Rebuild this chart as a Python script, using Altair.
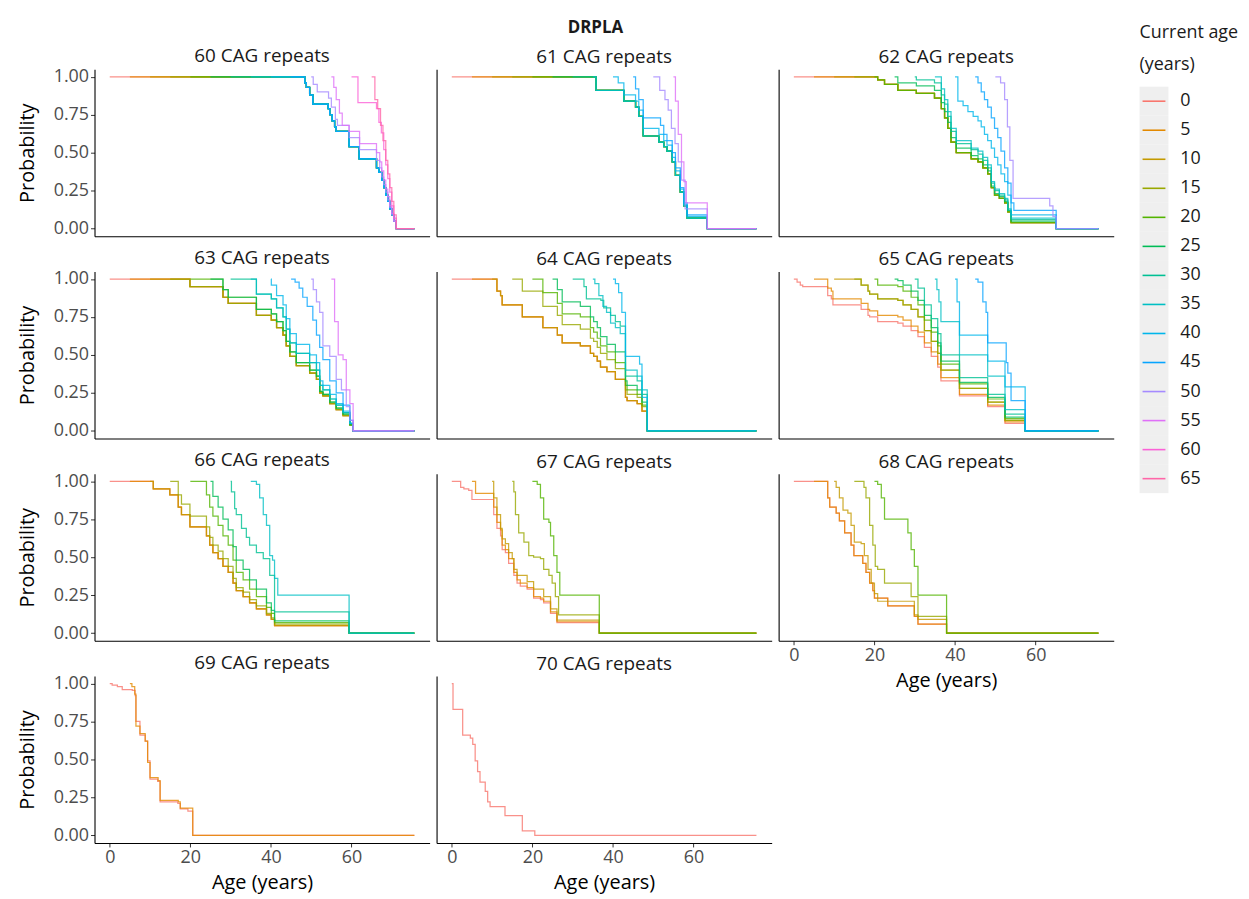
import altair as alt
import pandas as pd

# ---------------- data ----------------
END_AGE = 75.6
CURRENT_AGES = [0, 5, 10, 15, 20, 25, 30, 35, 40, 45, 50, 55, 60, 65]
AGE_COLORS = ["#F8766D", "#E38900", "#C49A00", "#99A800", "#53B400", "#00BC56", "#00C094",
              "#00BFC4", "#00B6EB", "#06A4FF", "#A58AFF", "#DF70F8", "#FB61D7", "#FF66A8"]
X_TICKS = [0, 20, 40, 60]
Y_TICKS = [0, 0.25, 0.5, 0.75, 1.0]

# each curve: (step ages, probability after each step); curve starts at its current age with p = 1
P60_CURVES = {
    0: ([48.4, 48.8, 49.6, 50.4, 54.2, 54.6, 55.2, 55.8, 56.2, 59.4, 61.9, 66.2, 66.8, 67.5, 68.0, 68.5, 69.0, 69.5, 70.0, 70.5, 71.1],
        [0.96, 0.93, 0.88, 0.82, 0.79, 0.75, 0.71, 0.67, 0.64, 0.54, 0.46, 0.40, 0.37, 0.32, 0.27, 0.22, 0.18, 0.13, 0.09, 0.05, 0.0]),
    50: ([50.5, 51.5, 54.3, 55.0, 56.0, 56.5, 59.4, 62.0, 66.2, 67.0, 67.5, 68.0, 68.5, 69.0, 69.5, 70.0, 70.5, 71.1],
         [0.95, 0.90, 0.86, 0.80, 0.72, 0.68, 0.60, 0.52, 0.45, 0.40, 0.34, 0.29, 0.24, 0.19, 0.14, 0.09, 0.05, 0.0]),
    55: ([55.6, 56.2, 57.0, 57.7, 59.4, 62.0, 66.2, 67.0, 67.5, 68.0, 68.5, 69.0, 69.5, 70.0, 70.5, 71.1],
         [0.93, 0.85, 0.76, 0.68, 0.64, 0.56, 0.50, 0.44, 0.38, 0.32, 0.26, 0.21, 0.15, 0.10, 0.05, 0.0]),
    60: ([61.6, 66.2, 66.8, 67.4, 68.0, 68.5, 69.0, 69.5, 70.0, 70.5, 71.1],
         [0.83, 0.79, 0.70, 0.63, 0.52, 0.42, 0.33, 0.24, 0.15, 0.07, 0.0]),
    65: ([65.8, 66.5, 67.2, 67.8, 68.5, 69.0, 69.5, 70.0, 70.5, 71.1],
         [0.85, 0.79, 0.68, 0.58, 0.45, 0.36, 0.27, 0.18, 0.09, 0.0]),
}
P60_SHARED = {5: 0, 10: 0, 15: 0, 20: 0, 25: 0, 30: 0, 35: 0, 40: 0, 45: 0}

P61_CURVES = {
    0: ([35.8, 42.7, 45.6, 46.4, 47.5, 51.4, 52.6, 53.4, 54.7, 55.5, 56.7, 57.6, 58.4, 63.4],
        [0.91, 0.84, 0.80, 0.74, 0.61, 0.57, 0.54, 0.51, 0.44, 0.35, 0.24, 0.15, 0.07, 0.0]),
    40: ([41.3, 42.7, 45.6, 46.4, 47.5, 51.4, 52.6, 53.4, 54.7, 55.5, 56.7, 57.6, 58.4, 63.4],
         [0.96, 0.88, 0.84, 0.78, 0.66, 0.62, 0.58, 0.55, 0.47, 0.38, 0.26, 0.16, 0.08, 0.0]),
    45: ([45.6, 46.4, 47.5, 51.8, 52.6, 53.4, 54.7, 55.5, 56.7, 57.6, 58.4, 63.4],
         [0.92, 0.85, 0.73, 0.68, 0.62, 0.58, 0.50, 0.40, 0.27, 0.17, 0.09, 0.0]),
    50: ([51.6, 52.9, 53.7, 54.5, 55.4, 56.2, 57.0, 57.9, 63.4],
         [0.91, 0.85, 0.78, 0.66, 0.56, 0.44, 0.32, 0.13, 0.0]),
    55: ([55.5, 56.2, 57.0, 57.6, 58.2, 63.4],
         [0.84, 0.62, 0.44, 0.31, 0.17, 0.0]),
}
P61_SHARED = {5: 0, 10: 0, 15: 0, 20: 0, 25: 0, 30: 0, 35: 0}

P62_CURVES = {
    0: ([20.8, 22.5, 25.8, 30.4, 34.9, 36.6, 37.4, 38.2, 39.0, 40.3, 44.0, 45.7, 46.9, 48.1, 49.0, 49.8, 51.0, 52.3, 53.1, 53.9, 65.1],
        [0.98, 0.95, 0.91, 0.89, 0.86, 0.79, 0.73, 0.66, 0.57, 0.50, 0.46, 0.44, 0.40, 0.36, 0.27, 0.22, 0.20, 0.17, 0.11, 0.04, 0.0]),
    25: ([25.8, 30.4, 34.9, 36.6, 37.4, 38.2, 39.0, 40.3, 44.0, 45.7, 46.9, 48.1, 49.0, 49.8, 51.0, 52.3, 53.1, 53.9, 65.1],
         [0.96, 0.94, 0.91, 0.83, 0.77, 0.70, 0.60, 0.53, 0.48, 0.46, 0.42, 0.38, 0.28, 0.23, 0.21, 0.18, 0.12, 0.05, 0.0]),
    30: ([30.4, 34.9, 36.6, 37.4, 38.2, 39.0, 40.3, 44.0, 45.7, 46.9, 48.1, 49.0, 49.8, 51.0, 52.3, 53.1, 53.9, 65.1],
         [0.98, 0.96, 0.88, 0.82, 0.74, 0.64, 0.56, 0.52, 0.49, 0.45, 0.40, 0.30, 0.25, 0.22, 0.19, 0.12, 0.06, 0.0]),
    35: ([36.6, 37.4, 38.2, 39.0, 40.3, 44.0, 45.7, 46.9, 48.1, 49.0, 49.8, 51.0, 52.3, 53.1, 53.9, 65.1],
         [0.92, 0.85, 0.77, 0.66, 0.58, 0.53, 0.51, 0.47, 0.42, 0.31, 0.26, 0.23, 0.20, 0.13, 0.07, 0.0]),
    40: ([40.7, 42.0, 43.2, 44.5, 45.7, 46.5, 47.3, 48.1, 49.0, 49.8, 50.6, 51.4, 52.3, 53.1, 53.9, 65.1],
         [0.84, 0.81, 0.77, 0.74, 0.71, 0.67, 0.62, 0.58, 0.53, 0.47, 0.42, 0.36, 0.31, 0.22, 0.09, 0.0]),
    45: ([45.7, 46.5, 47.3, 48.1, 49.0, 49.8, 50.6, 51.4, 52.3, 53.1, 53.9, 54.6, 65.1],
         [0.96, 0.90, 0.85, 0.80, 0.73, 0.66, 0.60, 0.51, 0.40, 0.30, 0.17, 0.12, 0.0]),
    50: ([51.3, 52.3, 53.0, 53.6, 54.4, 63.5, 64.3, 65.1],
         [0.96, 0.85, 0.67, 0.45, 0.20, 0.15, 0.08, 0.0]),
}
P62_SHARED = {5: 0, 10: 0, 15: 0, 20: 0}

P63_CURVES = {
    0: ([19.9, 28.1, 29.4, 36.4, 40.1, 41.4, 43.0, 43.8, 44.7, 46.3, 49.6, 51.3, 52.1, 52.9, 54.6, 56.2, 57.9, 59.6, 60.4],
        [0.95, 0.88, 0.84, 0.76, 0.73, 0.68, 0.63, 0.56, 0.49, 0.43, 0.38, 0.34, 0.25, 0.23, 0.18, 0.14, 0.10, 0.04, 0.0]),
    20: ([28.1, 29.4, 36.4, 40.1, 41.4, 43.0, 43.8, 44.7, 46.3, 49.6, 51.3, 52.1, 52.9, 54.6, 56.2, 57.9, 59.6, 60.4],
         [0.93, 0.88, 0.80, 0.77, 0.72, 0.66, 0.59, 0.52, 0.45, 0.40, 0.36, 0.26, 0.24, 0.19, 0.15, 0.11, 0.04, 0.0]),
    30: ([36.4, 40.1, 41.4, 43.0, 43.8, 44.7, 46.3, 49.6, 51.3, 52.1, 52.9, 54.6, 56.2, 57.9, 59.6, 60.4],
         [0.90, 0.87, 0.81, 0.75, 0.67, 0.58, 0.51, 0.45, 0.40, 0.30, 0.27, 0.21, 0.17, 0.12, 0.05, 0.0]),
    40: ([40.1, 41.4, 43.0, 43.8, 44.7, 46.3, 49.6, 51.3, 52.1, 52.9, 54.6, 56.2, 57.9, 59.6, 60.4],
         [0.96, 0.89, 0.83, 0.74, 0.64, 0.57, 0.50, 0.45, 0.33, 0.30, 0.24, 0.18, 0.13, 0.05, 0.0]),
    45: ([46.0, 47.0, 47.9, 49.0, 50.4, 51.3, 52.1, 52.9, 54.6, 56.2, 57.9, 59.6, 60.4],
         [0.98, 0.94, 0.88, 0.82, 0.73, 0.63, 0.55, 0.47, 0.33, 0.25, 0.17, 0.07, 0.0]),
    50: ([50.5, 51.3, 52.1, 52.9, 54.6, 56.2, 57.5, 58.7, 59.6, 60.4],
         [0.93, 0.85, 0.78, 0.56, 0.49, 0.34, 0.27, 0.16, 0.07, 0.0]),
    55: ([55.8, 56.7, 57.9, 58.7, 59.6, 60.4],
         [0.72, 0.50, 0.47, 0.27, 0.18, 0.0]),
}
P63_SHARED = {5: 0, 10: 0, 15: 0, 25: 20, 35: 30}

P64_CURVES = {
    0: ([11.2, 12.1, 12.5, 17.5, 22.6, 26.2, 27.4, 31.9, 34.4, 35.2, 36.1, 36.9, 38.5, 40.6, 43.1, 43.5, 46.0, 47.2, 48.5],
        [0.92, 0.89, 0.83, 0.75, 0.68, 0.63, 0.58, 0.56, 0.51, 0.49, 0.46, 0.42, 0.39, 0.34, 0.22, 0.20, 0.18, 0.13, 0.0]),
    15: ([17.5, 22.6, 26.2, 27.4, 31.9, 34.4, 35.2, 36.1, 36.9, 38.5, 40.6, 43.1, 43.5, 46.0, 47.2, 48.5],
         [0.92, 0.82, 0.76, 0.70, 0.67, 0.61, 0.59, 0.55, 0.51, 0.47, 0.41, 0.27, 0.24, 0.22, 0.16, 0.0]),
    20: ([22.6, 26.2, 27.4, 31.9, 34.4, 35.2, 36.1, 36.9, 38.5, 40.6, 43.1, 43.5, 46.0, 47.2, 48.5],
         [0.91, 0.84, 0.77, 0.75, 0.68, 0.65, 0.61, 0.56, 0.52, 0.45, 0.30, 0.27, 0.24, 0.17, 0.0]),
    25: ([26.2, 27.4, 31.9, 34.4, 35.2, 36.1, 36.9, 38.5, 40.6, 43.1, 43.5, 46.0, 47.2, 48.5],
         [0.93, 0.85, 0.82, 0.75, 0.72, 0.68, 0.62, 0.57, 0.52, 0.33, 0.30, 0.27, 0.19, 0.0]),
    30: ([32.8, 33.4, 37.0, 37.7, 39.4, 40.6, 41.8, 43.1, 46.0, 47.2, 48.5],
         [0.95, 0.87, 0.86, 0.81, 0.76, 0.72, 0.69, 0.36, 0.33, 0.24, 0.0]),
    35: ([35.5, 36.5, 37.5, 38.4, 39.4, 40.6, 41.8, 43.1, 46.0, 47.2, 48.5],
         [0.97, 0.89, 0.82, 0.78, 0.71, 0.68, 0.64, 0.40, 0.36, 0.27, 0.0]),
    40: ([40.6, 41.4, 42.2, 43.1, 46.6, 47.2, 48.5],
         [0.97, 0.91, 0.78, 0.49, 0.44, 0.22, 0.0]),
}
P64_SHARED = {5: 0, 10: 0}

P65_CURVES = {
    0: ([0.8, 1.6, 2.2, 8.4, 9.3, 9.7, 16.7, 18.4, 18.8, 20.8, 25.8, 27.1, 29.1, 30.8, 32.4, 34.1, 35.7, 36.5, 41.1, 48.1, 52.4, 57.4],
        [0.98, 0.96, 0.95, 0.89, 0.87, 0.83, 0.80, 0.76, 0.75, 0.72, 0.71, 0.69, 0.66, 0.62, 0.55, 0.49, 0.42, 0.33, 0.23, 0.16, 0.05, 0.0]),
    5: ([8.4, 9.3, 9.7, 16.7, 18.4, 18.8, 20.8, 25.8, 27.1, 29.1, 30.8, 32.4, 34.1, 35.7, 36.5, 41.1, 48.1, 52.4, 57.4],
        [0.94, 0.92, 0.87, 0.84, 0.80, 0.79, 0.76, 0.75, 0.73, 0.69, 0.65, 0.58, 0.52, 0.44, 0.35, 0.24, 0.17, 0.06, 0.0]),
    10: ([16.7, 18.4, 18.8, 20.8, 25.8, 27.1, 29.1, 30.8, 32.4, 34.1, 35.7, 36.5, 41.1, 48.1, 52.4, 57.4],
         [0.96, 0.92, 0.90, 0.87, 0.86, 0.83, 0.80, 0.75, 0.66, 0.59, 0.51, 0.40, 0.28, 0.19, 0.07, 0.0]),
    20: ([20.8, 25.8, 27.1, 29.1, 30.8, 32.4, 34.1, 35.7, 36.5, 41.1, 48.1, 52.4, 57.4],
         [0.96, 0.95, 0.92, 0.88, 0.83, 0.73, 0.65, 0.56, 0.44, 0.31, 0.21, 0.08, 0.0]),
    25: ([25.8, 27.1, 29.1, 30.8, 32.4, 34.1, 35.7, 36.5, 41.1, 48.1, 52.4, 57.4],
         [0.99, 0.96, 0.92, 0.86, 0.76, 0.68, 0.58, 0.46, 0.32, 0.22, 0.09, 0.0]),
    30: ([30.8, 32.4, 34.1, 35.7, 36.5, 41.1, 48.1, 52.4, 57.4],
         [0.94, 0.83, 0.74, 0.64, 0.50, 0.35, 0.24, 0.11, 0.0]),
    35: ([35.5, 36.0, 36.5, 41.1, 48.1, 52.4, 57.4],
         [0.93, 0.85, 0.72, 0.50, 0.36, 0.14, 0.0]),
    40: ([40.5, 41.1, 48.1, 52.4, 57.4],
         [0.85, 0.63, 0.46, 0.29, 0.0]),
    45: ([45.7, 46.9, 47.7, 48.1, 52.7, 53.1, 53.9, 57.4],
         [0.98, 0.85, 0.78, 0.58, 0.45, 0.38, 0.20, 0.0]),
}
P65_SHARED = {15: 10}

P66_CURVES = {
    0: ([10.8, 14.9, 17.0, 17.8, 19.9, 24.0, 24.8, 25.6, 26.9, 28.1, 29.4, 30.6, 31.4, 33.1, 34.7, 36.4, 38.9, 40.1, 40.9, 59.4],
        [0.95, 0.91, 0.83, 0.78, 0.70, 0.64, 0.58, 0.53, 0.49, 0.44, 0.40, 0.33, 0.28, 0.24, 0.20, 0.16, 0.12, 0.09, 0.05, 0.0]),
    15: ([17.0, 17.8, 19.9, 24.0, 24.8, 25.6, 26.9, 28.1, 29.4, 30.6, 31.4, 33.1, 34.7, 36.4, 38.9, 40.1, 40.9, 59.4],
         [0.91, 0.85, 0.77, 0.70, 0.63, 0.58, 0.54, 0.49, 0.44, 0.36, 0.30, 0.27, 0.22, 0.18, 0.13, 0.10, 0.06, 0.0]),
    20: ([24.0, 24.8, 25.6, 26.9, 28.1, 29.4, 30.6, 31.4, 33.1, 34.7, 36.4, 38.9, 40.1, 40.9, 59.4],
         [0.91, 0.83, 0.77, 0.71, 0.64, 0.58, 0.48, 0.40, 0.35, 0.29, 0.24, 0.17, 0.13, 0.07, 0.0]),
    25: ([25.6, 26.9, 28.1, 29.4, 30.6, 31.4, 33.1, 34.7, 36.4, 38.9, 40.1, 40.9, 59.4],
         [0.90, 0.83, 0.75, 0.68, 0.57, 0.48, 0.42, 0.35, 0.29, 0.20, 0.15, 0.08, 0.0]),
    30: ([30.2, 31.0, 31.4, 32.7, 33.9, 34.7, 36.4, 38.1, 39.7, 40.9, 59.4],
         [0.93, 0.82, 0.78, 0.69, 0.63, 0.58, 0.53, 0.49, 0.38, 0.14, 0.0]),
    35: ([36.4, 37.2, 38.1, 38.9, 39.7, 40.4, 40.9, 41.7, 59.4],
         [0.98, 0.89, 0.78, 0.71, 0.51, 0.48, 0.36, 0.25, 0.0]),
}
P66_SHARED = {5: 0, 10: 0}

P67_CURVES = {
    0: ([2.2, 3.0, 4.2, 5.0, 10.4, 11.2, 12.1, 12.5, 13.3, 14.1, 15.4, 16.2, 17.0, 18.7, 20.3, 22.0, 22.8, 24.5, 26.1, 36.6],
        [0.96, 0.95, 0.94, 0.88, 0.78, 0.69, 0.64, 0.55, 0.53, 0.46, 0.38, 0.33, 0.31, 0.29, 0.23, 0.22, 0.20, 0.13, 0.07, 0.0]),
    5: ([5.9, 10.4, 11.2, 12.1, 12.5, 13.3, 14.1, 15.4, 16.2, 17.0, 18.7, 20.3, 22.0, 22.8, 24.5, 26.1, 36.6],
        [0.92, 0.83, 0.73, 0.68, 0.58, 0.55, 0.49, 0.40, 0.35, 0.33, 0.30, 0.24, 0.23, 0.21, 0.14, 0.075, 0.0]),
    10: ([10.4, 11.2, 12.1, 12.5, 13.3, 14.1, 15.0, 15.4, 16.2, 18.7, 20.3, 22.8, 24.5, 26.1, 36.6],
         [0.89, 0.78, 0.69, 0.62, 0.59, 0.53, 0.49, 0.42, 0.38, 0.34, 0.29, 0.24, 0.16, 0.085, 0.0]),
    15: ([15.4, 15.8, 16.6, 17.9, 19.1, 20.3, 22.0, 22.8, 24.1, 24.9, 25.7, 26.5, 36.6],
         [0.93, 0.78, 0.66, 0.60, 0.51, 0.50, 0.49, 0.42, 0.38, 0.33, 0.24, 0.12, 0.0]),
    20: ([21.2, 22.0, 22.8, 24.1, 24.5, 25.3, 26.1, 26.8, 36.6],
         [0.98, 0.89, 0.75, 0.73, 0.64, 0.51, 0.40, 0.25, 0.0]),
}
P67_SHARED = {}

P68_CURVES = {
    0: ([8.4, 8.9, 10.5, 11.3, 12.6, 14.2, 14.9, 17.1, 17.9, 18.8, 19.6, 20.0, 23.3, 29.9, 30.8, 37.9],
        [0.89, 0.83, 0.79, 0.74, 0.66, 0.58, 0.51, 0.46, 0.40, 0.33, 0.28, 0.23, 0.18, 0.11, 0.06, 0.0]),
    10: ([10.5, 11.3, 12.2, 13.4, 14.2, 15.0, 16.7, 17.5, 18.4, 19.2, 20.0, 20.8, 29.9, 30.8, 37.9],
         [0.96, 0.89, 0.81, 0.79, 0.71, 0.60, 0.59, 0.51, 0.42, 0.33, 0.26, 0.21, 0.12, 0.09, 0.0]),
    15: ([17.4, 17.9, 18.8, 19.6, 20.2, 20.8, 22.5, 29.1, 30.8, 37.9],
         [0.96, 0.89, 0.71, 0.58, 0.44, 0.42, 0.33, 0.24, 0.11, 0.0]),
    20: ([20.8, 21.7, 22.5, 28.3, 29.1, 29.9, 30.8, 37.9],
         [0.98, 0.89, 0.75, 0.66, 0.55, 0.44, 0.25, 0.0]),
}
P68_SHARED = {5: 0}

P69_CURVES = {
    0: ([0.6, 1.9, 3.1, 5.6, 6.3, 6.5, 7.5, 8.8, 9.4, 10.0, 11.9, 12.5, 16.9, 17.5, 19.4, 20.6],
        [0.99, 0.98, 0.96, 0.955, 0.92, 0.75, 0.66, 0.62, 0.49, 0.37, 0.355, 0.22, 0.21, 0.175, 0.16, 0.0]),
    5: ([5.5, 6.2, 6.5, 7.5, 8.8, 9.4, 10.0, 12.0, 12.5, 17.0, 17.5, 20.6],
        [0.98, 0.93, 0.72, 0.67, 0.62, 0.48, 0.38, 0.36, 0.23, 0.22, 0.18, 0.0]),
}
P69_SHARED = {}

P70_CURVES = {
    0: ([0.3, 2.7, 4.6, 5.2, 5.8, 6.4, 7.0, 8.3, 8.9, 9.5, 13.2, 17.5, 20.6],
        [0.83, 0.66, 0.64, 0.60, 0.49, 0.42, 0.35, 0.29, 0.22, 0.19, 0.13, 0.03, 0.0]),
}
P70_SHARED = {}

PANELS = {
    60: (P60_CURVES, P60_SHARED), 61: (P61_CURVES, P61_SHARED), 62: (P62_CURVES, P62_SHARED),
    63: (P63_CURVES, P63_SHARED), 64: (P64_CURVES, P64_SHARED), 65: (P65_CURVES, P65_SHARED),
    66: (P66_CURVES, P66_SHARED), 67: (P67_CURVES, P67_SHARED), 68: (P68_CURVES, P68_SHARED),
    69: (P69_CURVES, P69_SHARED), 70: (P70_CURVES, P70_SHARED),
}

# ---------------- build long table ----------------
rows = []
for cag, (curves, shared) in PANELS.items():
    for a in sorted(set(curves) | set(shared)):
        times, probs = curves[a] if a in curves else curves[shared[a]]
        pts = [(a, 1.0)]
        for t, p in zip(times, probs):
            if t > a:
                pts.append((t, p))
        pts.append((END_AGE, pts[-1][1]))
        for t, p in pts:
            rows.append({"cag": cag, "cur": str(a), "age": t, "prob": p})
DF = pd.DataFrame(rows)

AGE_LABELS = [str(a) for a in CURRENT_AGES]
COLOR_SCALE = alt.Scale(domain=AGE_LABELS, range=AGE_COLORS)
FONT = "Open Sans"

PW, PH = 337, 168
XDOM = [-0.05 * END_AGE, 1.05 * END_AGE]
YDOM = [-0.05, 1.05]


def panel(cag, show_y, show_x):
    common = dict(grid=False, domainColor="#000000", domainWidth=1.1)
    if show_x:
        xax = alt.Axis(values=X_TICKS, title="Age (years)", labelFontSize=18, labelColor="#4D4D4D",
                       labelFont=FONT, tickColor="#333333", tickSize=4, labelPadding=2,
                       titleFontSize=20, titleFont=FONT, titleFontWeight="normal", titleColor="#000000",
                       titlePadding=6, **common)
    else:
        xax = alt.Axis(labels=False, ticks=False, title=None, **common)
    if show_y:
        yax = alt.Axis(values=Y_TICKS, format=".2f", title="Probability", labelFontSize=18,
                       labelColor="#4D4D4D", labelFont=FONT, tickColor="#333333", tickSize=4,
                       labelPadding=2, titleFontSize=20, titleFont=FONT, titleFontWeight="normal",
                       titleColor="#000000", titlePadding=16, **common)
    else:
        yax = alt.Axis(labels=False, ticks=False, title=None, **common)
    return (
        alt.Chart(DF)
        .transform_filter(alt.datum.cag == cag)
        .mark_line(interpolate="step-after", strokeWidth=1.25, opacity=0.8)
        .encode(
            x=alt.X("age:Q", scale=alt.Scale(domain=XDOM, nice=False, zero=False), axis=xax),
            y=alt.Y("prob:Q", scale=alt.Scale(domain=YDOM, nice=False, zero=False), axis=yax),
            color=alt.Color("cur:N", scale=COLOR_SCALE, legend=None),
        )
        .properties(
            width=PW, height=PH,
            title=alt.TitleParams(f"{cag} CAG repeats", fontSize=19, font=FONT, fontWeight="normal",
                                  color="#1A1A1A", anchor="middle", frame="group", offset=2),
        )
    )


ROW_GAP = 35.4
col1 = alt.vconcat(panel(60, True, False), panel(63, True, False), panel(66, True, False),
                   panel(69, True, True), spacing=ROW_GAP, bounds="flush")
col2 = alt.vconcat(panel(61, False, False), panel(64, False, False), panel(67, False, False),
                   panel(70, False, True), spacing=ROW_GAP, bounds="flush")
col3 = alt.vconcat(panel(62, False, False), panel(65, False, False), panel(68, False, True),
                   spacing=ROW_GAP, bounds="flush")

panels = alt.hconcat(col1, col2, col3, spacing=7).properties(
    title=alt.TitleParams("DRPLA", fontSize=17, font=FONT, fontWeight="bold", color="#1A1A1A",
                          anchor="middle", dx=30, offset=10)
)

LEG_TOP = 17.6
LEG_STEP = 29.2
LEG = pd.DataFrame({"cur": AGE_LABELS})
leg_y = alt.Y("cur:N", sort=AGE_LABELS, axis=None,
              scale=alt.Scale(domain=AGE_LABELS, paddingInner=0, paddingOuter=0,
                              range=[LEG_TOP, LEG_TOP + LEG_STEP * len(AGE_LABELS)]))
leg_base = alt.Chart(LEG).encode(y=leg_y)
leg_bg = leg_base.mark_rect(color="#EFEFEF").encode(x=alt.value(0), x2=alt.value(29))
leg_line = leg_base.mark_rule(strokeWidth=1.6).encode(
    x=alt.value(3), x2=alt.value(26), color=alt.Color("cur:N", scale=COLOR_SCALE, legend=None))
leg_text = leg_base.mark_text(align="left", baseline="middle", fontSize=18, font=FONT,
                              color="#1A1A1A").encode(x=alt.value(41), text="cur:N")
legend = alt.layer(leg_bg, leg_line, leg_text).properties(
    width=75, height=LEG_TOP + LEG_STEP * len(AGE_LABELS),
    title=alt.TitleParams(["Current age", "(years)"], fontSize=18, font=FONT, fontWeight="normal",
                          color="#1A1A1A", anchor="start", frame="group", lineHeight=32, offset=-5),
)

chart = (
    alt.hconcat(panels, legend, spacing=26)
    .properties(padding={"left": 9, "top": 8, "right": 2, "bottom": 2})
    .configure(font=FONT, background="white")
    .configure_view(stroke=None)
)

chart.save("out.html", embed_options={"renderer": "svg", "actions": False})
